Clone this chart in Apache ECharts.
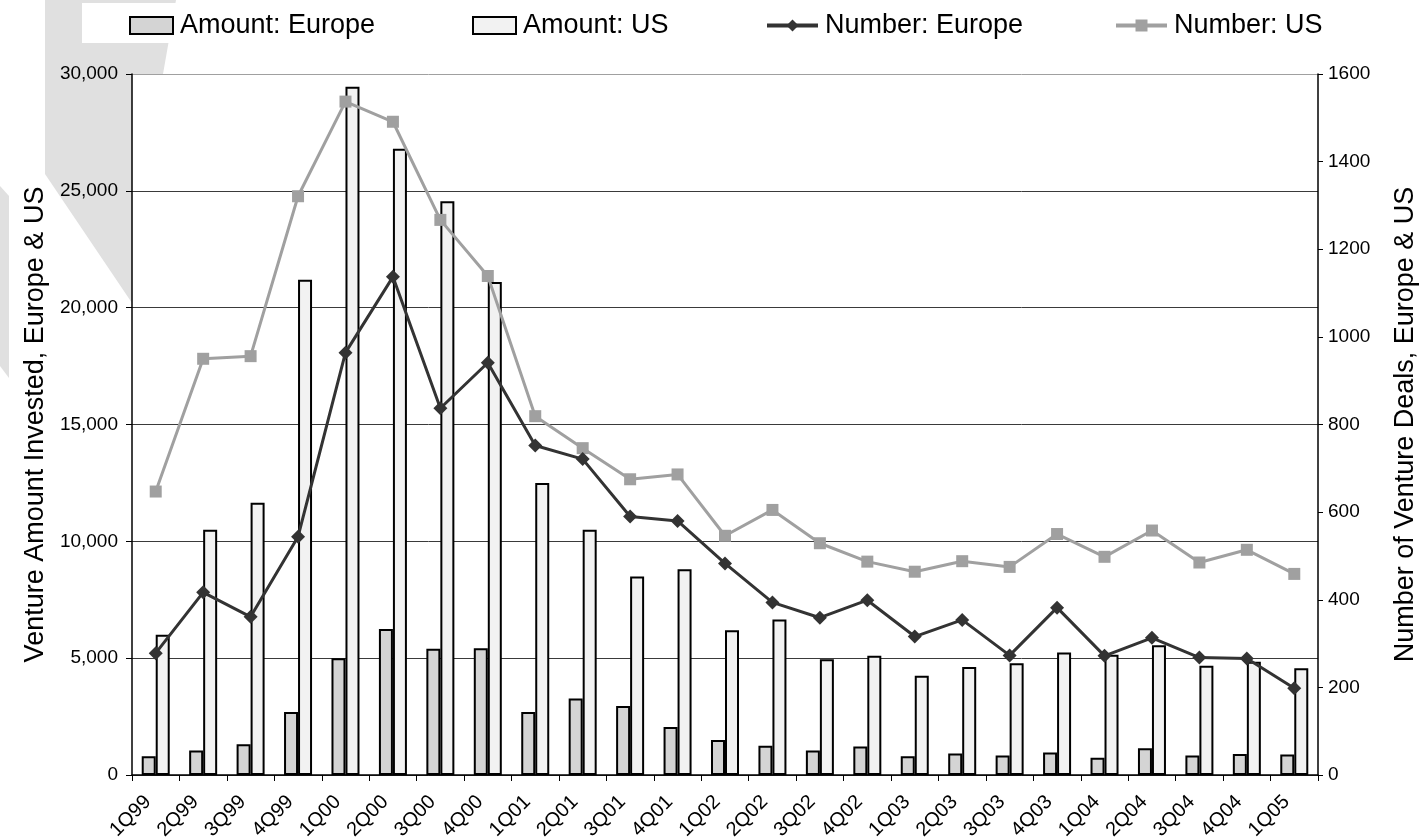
<!DOCTYPE html>
<html>
<head>
<meta charset="utf-8">
<script src="https://cdn.jsdelivr.net/npm/echarts@6/dist/echarts.min.js"></script>
<style>
html,body{margin:0;padding:0;background:#fff;}
#chart{width:1420px;height:840px;}
</style>
</head>
<body>
<div id="chart"></div>
<script>
const categories = ['1Q99','2Q99','3Q99','4Q99','1Q00','2Q00','3Q00','4Q00','1Q01','2Q01','3Q01','4Q01','1Q02','2Q02','3Q02','4Q02','1Q03','2Q03','3Q03','4Q03','1Q04','2Q04','3Q04','4Q04','1Q05'];
const amountEurope = [800, 1050, 1320, 2700, 5000, 6250, 5400, 5420, 2700, 3270, 2950, 2050, 1500, 1250, 1050, 1220, 800, 920, 830, 960, 740, 1140, 830, 900, 880];
const amountUS = [6000, 10500, 11650, 21200, 29450, 26800, 24550, 21100, 12500, 10500, 8500, 8800, 6200, 6650, 4950, 5100, 4250, 4620, 4780, 5240, 5150, 5550, 4680, 4850, 4570];
const numberEurope = [278, 417, 361, 544, 964, 1137, 837, 941, 752, 721, 590, 580, 483, 394, 359, 399, 316, 354, 273, 382, 272, 313, 268, 266, 198];
const numberUS = [647, 950, 956, 1321, 1537, 1491, 1267, 1139, 819, 746, 675, 686, 546, 605, 529, 487, 464, 488, 475, 550, 498, 558, 485, 514, 459];
const leftTicks = {min: 0, max: 30000, interval: 5000};
const rightTicks = {min: 0, max: 1600, interval: 200};

const FONT = "'Liberation Sans', Arial, sans-serif";
const chart = echarts.init(document.getElementById('chart'), null, {renderer: 'canvas'});

function legendItem(name, left, w, h, icon) {
  const l = {
    data: [{name: name, icon: icon}], left: left, top: 12, padding: 0, itemGap: 0,
    itemWidth: w, itemHeight: h, selectedMode: false,
    textStyle: {fontSize: 27, color: '#000', fontFamily: FONT, padding: [0, 0, 0, 2]},
    lineStyle: {width: 4}
  };
  if (!icon) l.data = [name];
  return l;
}

const option = {
  backgroundColor: '#fff',
  animation: false,
  textStyle: {fontFamily: FONT},
  graphic: [
    {type: 'polygon', z: -10, shape: {points: [[45,0],[176,0],[163,74],[132,150],[132,303],[45,174]]}, style: {fill: '#e0e0e0'}},
    {type: 'polygon', z: -10, shape: {points: [[0,186],[9,196],[9,378],[0,366]]}, style: {fill: '#e0e0e0'}},
    {type: 'rect', z: -9, shape: {x: 82, y: 3, width: 1250, height: 40}, style: {fill: '#fff'}}
  ],
  legend: [
    legendItem('Amount: Europe', 129, 43, 17, 'rect'),
    legendItem('Amount: US', 472, 43, 17, 'rect'),
    legendItem('Number: Europe', 765, 51, 15),
    legendItem('Number: US', 1114, 51, 15)
  ],
  grid: {left: 132, right: 102, top: 74, bottom: 65, show: true, backgroundColor: '#fff', borderWidth: 0, containLabel: false, outerBoundsMode: 'none'},
  xAxis: {
    type: 'category', data: categories,
    axisLine: {lineStyle: {color: '#000', width: 1.5}},
    axisTick: {show: true, length: 6, interval: 0, lineStyle: {color: '#000', width: 1}},
    axisLabel: {rotate: 45, interval: 0, fontSize: 20, color: '#000', margin: 16, padding: [0, 11, 0, 0], fontFamily: FONT},
    splitLine: {show: false}
  },
  yAxis: [
    {
      type: 'value', min: leftTicks.min, max: leftTicks.max, interval: leftTicks.interval,
      name: 'Venture Amount Invested, Europe & US', nameLocation: 'middle', nameRotate: 90, nameGap: 83,
      nameTextStyle: {fontSize: 27, color: '#000', fontFamily: FONT},
      axisLine: {show: true, lineStyle: {color: '#000', width: 1.5}},
      axisTick: {show: true, length: 6, lineStyle: {color: '#000'}},
      axisLabel: {fontSize: 19, color: '#000', margin: 14, fontFamily: FONT,
        formatter: v => v.toLocaleString('en-US')},
      splitLine: {show: true, lineStyle: {color: ['#3a3a3a','#3a3a3a','#3a3a3a','#3a3a3a','#3a3a3a','#3a3a3a','#a0a0a0'], width: 1}}
    },
    {
      type: 'value', min: rightTicks.min, max: rightTicks.max, interval: rightTicks.interval, position: 'right',
      name: 'Number of Venture Deals, Europe & US', nameLocation: 'middle', nameRotate: 90, nameGap: 74,
      nameTextStyle: {fontSize: 27, color: '#000', fontFamily: FONT},
      axisLine: {show: true, lineStyle: {color: '#000', width: 1.5}},
      axisTick: {show: true, length: 5, lineStyle: {color: '#000'}},
      axisLabel: {fontSize: 19, color: '#000', margin: 10, fontFamily: FONT,
        formatter: v => String(v)},
      splitLine: {show: false}
    }
  ],
  series: [
    {name: 'Amount: Europe', type: 'bar', data: amountEurope, yAxisIndex: 0,
      barWidth: 14, barGap: '0%',
      itemStyle: {color: '#d4d4d4', borderColor: '#000', borderWidth: 2}},
    {name: 'Amount: US', type: 'bar', data: amountUS, yAxisIndex: 0,
      barWidth: 14, barGap: '0%',
      itemStyle: {color: '#f2f2f2', borderColor: '#000', borderWidth: 2}},
    {name: 'Number: Europe', type: 'line', data: numberEurope, yAxisIndex: 1, z: 5,
      symbol: 'diamond', symbolSize: 14,
      lineStyle: {color: '#333333', width: 3}, itemStyle: {color: '#333333'}},
    {name: 'Number: US', type: 'line', data: numberUS, yAxisIndex: 1, z: 4,
      symbol: 'rect', symbolSize: 12,
      lineStyle: {color: '#a0a0a0', width: 3}, itemStyle: {color: '#a0a0a0'}}
  ]
};
chart.setOption(option);
</script>
</body>
</html>
